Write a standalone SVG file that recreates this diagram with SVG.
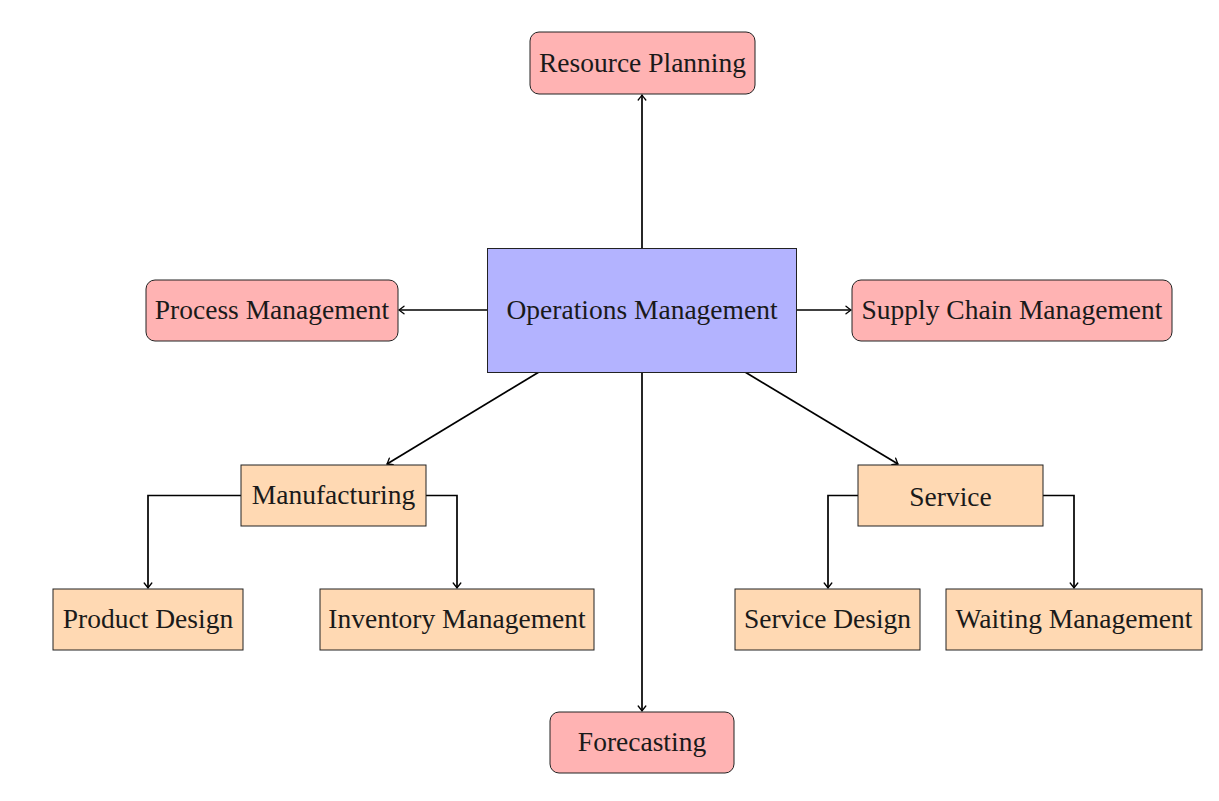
<svg xmlns="http://www.w3.org/2000/svg" width="1219" height="801" viewBox="0 0 1219 801">
<style>
text{font-family:"Liberation Serif","DejaVu Serif",serif;font-size:27.5px;fill:#1a1a1a;text-anchor:middle;dominant-baseline:central}
.red{fill:#ffb3b3;stroke:#222;stroke-width:1}
.blue{fill:#b3b3ff;stroke:#222;stroke-width:1}
.orange{fill:#ffd9b3;stroke:#222;stroke-width:1}
.edge{fill:none;stroke:#000;stroke-width:1.7;marker-end:url(#arr)}
</style>
<defs>
<marker id="arr" viewBox="-6 -5 7 10" refX="0" refY="0" markerWidth="7" markerHeight="10" markerUnits="userSpaceOnUse" orient="auto">
<path d="M -5 -3.8 Q -1.5 -1 0 0 Q -1.5 1 -5 3.8" fill="none" stroke="#000" stroke-width="1.3" stroke-linecap="round"/>
</marker>
</defs>
<rect width="1219" height="801" fill="#fff"/>
<g id="connectors">
<path class="edge" d="M642 248 V95"/>
<path class="edge" d="M487 310 H399"/>
<path class="edge" d="M796 310 H851"/>
<path class="edge" d="M539 372 L387 464"/>
<path class="edge" d="M745 372 L898 464"/>
<path class="edge" d="M642 372 V711"/>
<path class="edge" d="M241 495.5 H148 V588"/>
<path class="edge" d="M426 495.5 H457 V588"/>
<path class="edge" d="M858 495.5 H828 V588"/>
<path class="edge" d="M1043 495.5 H1074 V588"/>
</g>
<g id="resource-planning"><rect class="red" x="530" y="32" width="225" height="62" rx="9"/><text x="642.5" y="62">Resource Planning</text></g>
<g id="operations-management"><rect class="blue" x="487.5" y="248.5" width="309" height="124"/><text x="642" y="309">Operations Management</text></g>
<g id="process-management"><rect class="red" x="146" y="280" width="252" height="61" rx="9"/><text x="272" y="309.5">Process Management</text></g>
<g id="supply-chain-management"><rect class="red" x="852" y="280" width="320" height="61" rx="9"/><text x="1012" y="309.5">Supply Chain Management</text></g>
<g id="manufacturing"><rect class="orange" x="241" y="465" width="185" height="61"/><text x="333.5" y="494.5">Manufacturing</text></g>
<g id="service"><rect class="orange" x="858" y="465" width="185" height="61"/><text x="950.5" y="496.5">Service</text></g>
<g id="product-design"><rect class="orange" x="53" y="589" width="190" height="61"/><text x="148" y="618.5">Product Design</text></g>
<g id="inventory-management"><rect class="orange" x="320" y="589" width="274" height="61"/><text x="457" y="618.5">Inventory Management</text></g>
<g id="service-design"><rect class="orange" x="735" y="589" width="185" height="61"/><text x="827.5" y="618.5">Service Design</text></g>
<g id="waiting-management"><rect class="orange" x="946" y="589" width="256" height="61"/><text x="1074" y="618.5">Waiting Management</text></g>
<g id="forecasting"><rect class="red" x="550" y="712" width="184" height="61" rx="9"/><text x="642" y="741.5">Forecasting</text></g>
</svg>
